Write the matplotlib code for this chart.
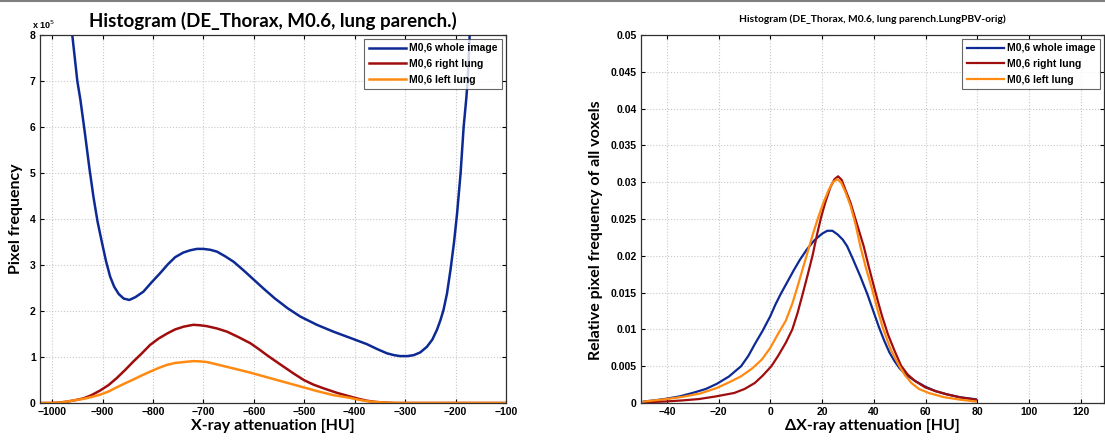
import matplotlib
matplotlib.use('Agg')
import matplotlib.pyplot as plt
from matplotlib.lines import Line2D
from matplotlib.font_manager import FontProperties

# left panel: absolute histogram (values in units of 1e5 pixels)
hu_whole = [-975, -968, -960, -950, -944, -935, -926, -918, -910, -901, -893, -885, -877,
            -868, -858, -847, -835, -819, -803, -786, -770, -756, -740, -726, -713, -700,
            -686, -673, -657, -640, -620, -600, -580, -558, -533, -508, -475, -442, -410,
            -376, -355, -336, -322, -310, -295, -283, -270, -257, -246, -237, -230, -224,
            -217, -210, -203, -197, -190, -184, -179, -176, -172, -168]
freq_whole = [10.5, 9.0, 8.0, 7.0, 6.6, 5.87, 5.1, 4.48, 3.95, 3.48, 3.08, 2.75, 2.53,
              2.37, 2.27, 2.24, 2.30, 2.42, 2.62, 2.82, 3.02, 3.17, 3.27, 3.32, 3.35, 3.35,
              3.33, 3.29, 3.19, 3.07, 2.88, 2.68, 2.48, 2.27, 2.06, 1.88, 1.70, 1.55, 1.42,
              1.28, 1.17, 1.08, 1.04, 1.02, 1.02, 1.04, 1.10, 1.22, 1.38, 1.59, 1.80, 2.02,
              2.38, 2.9, 3.5, 4.12, 5.0, 6.0, 6.59, 7.0, 8.0, 9.0]

hu_right = [-1020, -1000, -985, -970, -955, -938, -922, -905, -888, -872, -855, -839, -822,
            -806, -789, -772, -756, -739, -720, -707, -693, -673, -653, -630, -607, -590,
            -574, -557, -541, -521, -501, -482, -462, -435, -409, -392, -376, -360, -343,
            -320, -200, -100]
freq_right = [0.0, 0.0, 0.01, 0.03, 0.06, 0.10, 0.17, 0.27, 0.39, 0.54, 0.72, 0.90, 1.08,
              1.26, 1.40, 1.51, 1.60, 1.66, 1.70, 1.69, 1.67, 1.62, 1.55, 1.43, 1.30, 1.17,
              1.04, 0.91, 0.79, 0.64, 0.50, 0.40, 0.32, 0.22, 0.14, 0.09, 0.05, 0.025, 0.01,
              0.0, 0.0, 0.0]

hu_left = [-1020, -1000, -985, -970, -955, -938, -922, -905, -888, -872, -855, -839, -822,
           -806, -789, -772, -756, -739, -720, -707, -693, -670, -640, -607, -574, -541,
           -508, -475, -442, -425, -409, -392, -376, -358, -340, -320, -200, -100]
freq_left = [0.0, 0.0, 0.01, 0.03, 0.06, 0.09, 0.13, 0.18, 0.25, 0.34, 0.43, 0.51, 0.60,
             0.68, 0.76, 0.83, 0.87, 0.89, 0.91, 0.905, 0.89, 0.83, 0.75, 0.66, 0.56, 0.46,
             0.36, 0.26, 0.17, 0.14, 0.11, 0.07, 0.04, 0.02, 0.01, 0.0, 0.0, 0.0]

# right panel: relative histogram of delta HU
d_whole = [-48.9, -45, -40.9, -35, -30.1, -25, -20.7, -16, -11.3, -8.5, -6, -3, 0, 2, 4,
           6.5, 9, 11.5, 14.2, 17, 20, 22, 24, 26, 28, 29.7, 32, 34.8, 37.5, 40, 42, 44,
           46, 48, 50, 53, 56, 60, 64, 68, 73.4, 79.5]
rel_whole = [0.0002, 0.00035, 0.00054, 0.0009, 0.00136, 0.0019, 0.0026, 0.0036, 0.0050,
             0.0064, 0.0080, 0.0098, 0.0118, 0.0134, 0.0148, 0.0164, 0.0180, 0.0195,
             0.0209, 0.0221, 0.0230, 0.0234, 0.0234, 0.0229, 0.0222, 0.0213, 0.0195,
             0.0172, 0.0148, 0.0123, 0.0103, 0.0085, 0.0069, 0.0057, 0.0047, 0.0037,
             0.0030, 0.0022, 0.0016, 0.0012, 0.00078, 0.0005]

d_right = [-48.9, -40.9, -34, -27.5, -21, -14, -10, -6, -3, 0.4, 3, 6, 8.5, 10.5, 12.5,
           14.5, 16.3, 18, 19.6, 21.2, 23.2, 24.8, 26.2, 27.6, 29, 31, 33.5, 36.1, 38, 40,
           41.6, 43.2, 45.5, 47.9, 50.5, 53, 55.9, 60, 64, 68, 73.4, 79.5]
rel_right = [0.0001, 0.0002, 0.00035, 0.00054, 0.0009, 0.00136, 0.0019, 0.00272, 0.0037,
             0.0050, 0.0064, 0.0082, 0.0100, 0.0122, 0.0148, 0.0175, 0.0200, 0.0228,
             0.0252, 0.0272, 0.0293, 0.0304, 0.0308, 0.0303, 0.0290, 0.0272, 0.0243,
             0.0213, 0.0186, 0.0159, 0.0138, 0.0118, 0.0093, 0.0072, 0.0051, 0.0039,
             0.0030, 0.0021, 0.0016, 0.0012, 0.00076, 0.00045]

d_left = [-48.9, -41, -34.2, -27, -20.7, -16, -11.3, -7, -3.3, 0, 3, 6, 8.5, 10.5, 12.5,
          14.5, 16.5, 18.5, 20.5, 22.5, 24.2, 25.8, 27.3, 29, 31, 33, 34.8, 37, 39.4, 41.5,
          43.5, 46.5, 49.9, 52, 54.6, 57.5, 61.3, 67, 73.4, 79.5]
rel_left = [0.0002, 0.0005, 0.00082, 0.0013, 0.00204, 0.0028, 0.00363, 0.0047, 0.0059,
            0.0075, 0.0094, 0.0112, 0.0135, 0.0158, 0.0182, 0.0206, 0.0230, 0.0252,
            0.0272, 0.0289, 0.0300, 0.0304, 0.0300, 0.0287, 0.0268, 0.0242, 0.0213,
            0.0183, 0.0154, 0.0126, 0.0102, 0.0073, 0.0050, 0.0038, 0.0027, 0.0019,
            0.00136, 0.0008, 0.00045, 0.0002]

labels = ['M0,6 whole image', 'M0,6 right lung', 'M0,6 left lung']
colors = ['#0d2a94', '#a00d0d', '#ff8a12']

tick_font = FontProperties(family='Liberation Sans', weight='bold', size=7.5)
label_font = dict(family='Lato', weight='bold', size=11.5)

fig = plt.figure(figsize=(11.05, 4.42), dpi=100)
fig.add_artist(Line2D([0, 1], [0.998, 0.998], color='#808080', lw=1.5))

W, H = 1105, 442
ax1 = fig.add_axes([40 / W, 1 - 403 / H, 466 / W, 368 / H])
ax2 = fig.add_axes([641 / W, 1 - 403 / H, 463 / W, 368 / H])


def style(ax):
    ax.grid(True, linestyle=':', color='#c8c8c8', linewidth=0.8)
    ax.tick_params(direction='in', top=True, right=True, length=3, width=0.8, pad=3)
    for lab in ax.get_xticklabels() + ax.get_yticklabels():
        lab.set_fontproperties(tick_font)
    for sp in ax.spines.values():
        sp.set_linewidth(0.9)
        sp.set_color('#303030')
    leg = ax.legend(loc='upper right', prop=dict(family='Liberation Sans', weight='bold', size=7.5),
                    frameon=True, fancybox=False, edgecolor='#404040', handlelength=3.6,
                    handletextpad=0.3, borderpad=0.4, labelspacing=0.55,
                    borderaxespad=0.4)
    leg.get_frame().set_linewidth(0.8)


ax1.plot(hu_whole, freq_whole, color=colors[0], lw=1.8, label=labels[0])
ax1.plot(hu_right, freq_right, color=colors[1], lw=1.8, label=labels[1])
ax1.plot(hu_left, freq_left, color=colors[2], lw=1.8, label=labels[2])
ax1.set_xlim(-1024, -100)
ax1.set_ylim(0, 8)
ax1.set_xticks(range(-1000, -99, 100))
ax1.set_yticks(range(0, 9))
ax1.set_title('Histogram (DE_Thorax, M0.6, lung parench.)',
              fontdict=dict(family='Lato', weight='bold', size=13.5), pad=6)
ax1.set_xlabel('X-ray attenuation [HU]', fontdict=label_font, labelpad=1)
ax1.set_ylabel('Pixel frequency', fontdict=label_font)
ax1.yaxis.set_label_coords(-0.036, 0.5)
ax1.text(-0.018, 1.012, r'x 10$^5$', transform=ax1.transAxes, ha='left', va='bottom',
         fontfamily='Liberation Sans', fontweight='bold', fontsize=6.5)
style(ax1)

ax2.plot(d_whole, rel_whole, color=colors[0], lw=1.6, label=labels[0])
ax2.plot(d_right, rel_right, color=colors[1], lw=1.6, label=labels[1])
ax2.plot(d_left, rel_left, color=colors[2], lw=1.6, label=labels[2])
ax2.set_xlim(-50, 129)
ax2.set_ylim(0, 0.05)
ax2.set_xticks(range(-40, 121, 20))
ax2.set_yticks([0, 0.005, 0.01, 0.015, 0.02, 0.025, 0.03, 0.035, 0.04, 0.045, 0.05])
ax2.set_yticklabels(['0', '0.005', '0.01', '0.015', '0.02', '0.025', '0.03', '0.035',
                     '0.04', '0.045', '0.05'])
ax2.set_title('Histogram (DE_Thorax, M0.6, lung parench.LungPBV-orig)',
              fontdict=dict(family='Lato', weight='bold', size=7.4), pad=9)
ax2.set_xlabel('\u0394X-ray attenuation [HU]', fontdict=label_font, labelpad=1)
ax2.set_ylabel('Relative pixel frequency of all voxels', fontdict=label_font)
ax2.yaxis.set_label_coords(-0.082, 0.47)
style(ax2)

fig.savefig('out.png', dpi=100)
